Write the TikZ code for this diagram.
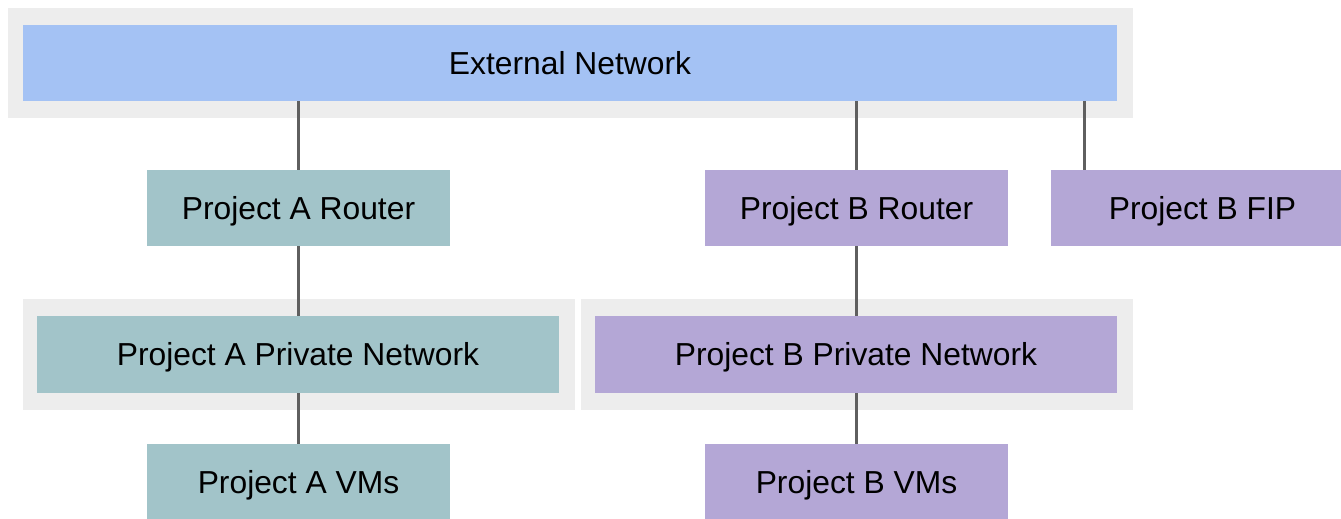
\documentclass[tikz,border=0pt]{standalone}
\usepackage{fontspec}
\setmainfont{Liberation Sans}
\usetikzlibrary{positioning}

\definecolor{extblue}{HTML}{A4C2F4}
\definecolor{projA}{HTML}{A2C4C9}
\definecolor{projB}{HTML}{B4A7D6}
\definecolor{panel}{HTML}{EDEDED}
\definecolor{wire}{HTML}{5F5F5F}

\begin{document}
\begin{tikzpicture}[x=0.02cm, y=-0.02cm,
    box/.style={rectangle, inner sep=0pt, minimum width=303*0.02cm, minimum height=76*0.02cm,
                text height=12.96pt, text depth=0pt, font=\fontsize{18.1}{22}\selectfont},
    wide/.style={box, minimum width=522*0.02cm, minimum height=77*0.02cm},
    link/.style={draw=wire, line width=1.2pt}]

        \useasboundingbox (0,0) rectangle (1341,518);

        % grey panels behind the networks
        \fill[panel] (8,8) rectangle (1133,118);
        \fill[panel] (23,299) rectangle (575,410);
        \fill[panel] (581,299) rectangle (1133,410);

        \node[box, fill=extblue, minimum width=1094*0.02cm] (ext) at (570,63) {External Network};

        \node[box, fill=projA] (rtrA) at (298.5,208) {Project A Router};
        \node[box, fill=projB] (rtrB) at (856.5,208) {Project B Router};
        \node[box, fill=projB] (fipB) at (1202.5,208) {Project B FIP};

        \node[wide, fill=projA] (privA) at (298,354.5) {Project A Private Network};
        \node[wide, fill=projB] (privB) at (856,354.5) {Project B Private Network};

        \node[box, fill=projA] (vmA) at (298.5,482) {Project A VMs};
        \node[box, fill=projB] (vmB) at (856.5,482) {Project B VMs};

        % uplinks
        \draw[link] (ext.south -| rtrA.north) -- (rtrA.north);
        \draw[link] (ext.south -| rtrB.north) -- (rtrB.north);
        \coordinate (fiptap) at (1084.5,101);
        \draw[link] (fiptap) -- (fiptap |- fipB.north);

        % router to private net to VMs
        \foreach \p in {A,B} {
            \draw[link] (rtr\p.south) -- (rtr\p.south |- priv\p.north);
            \draw[link] (vm\p.north |- priv\p.south) -- (vm\p.north);
        }

\end{tikzpicture}
\end{document}
